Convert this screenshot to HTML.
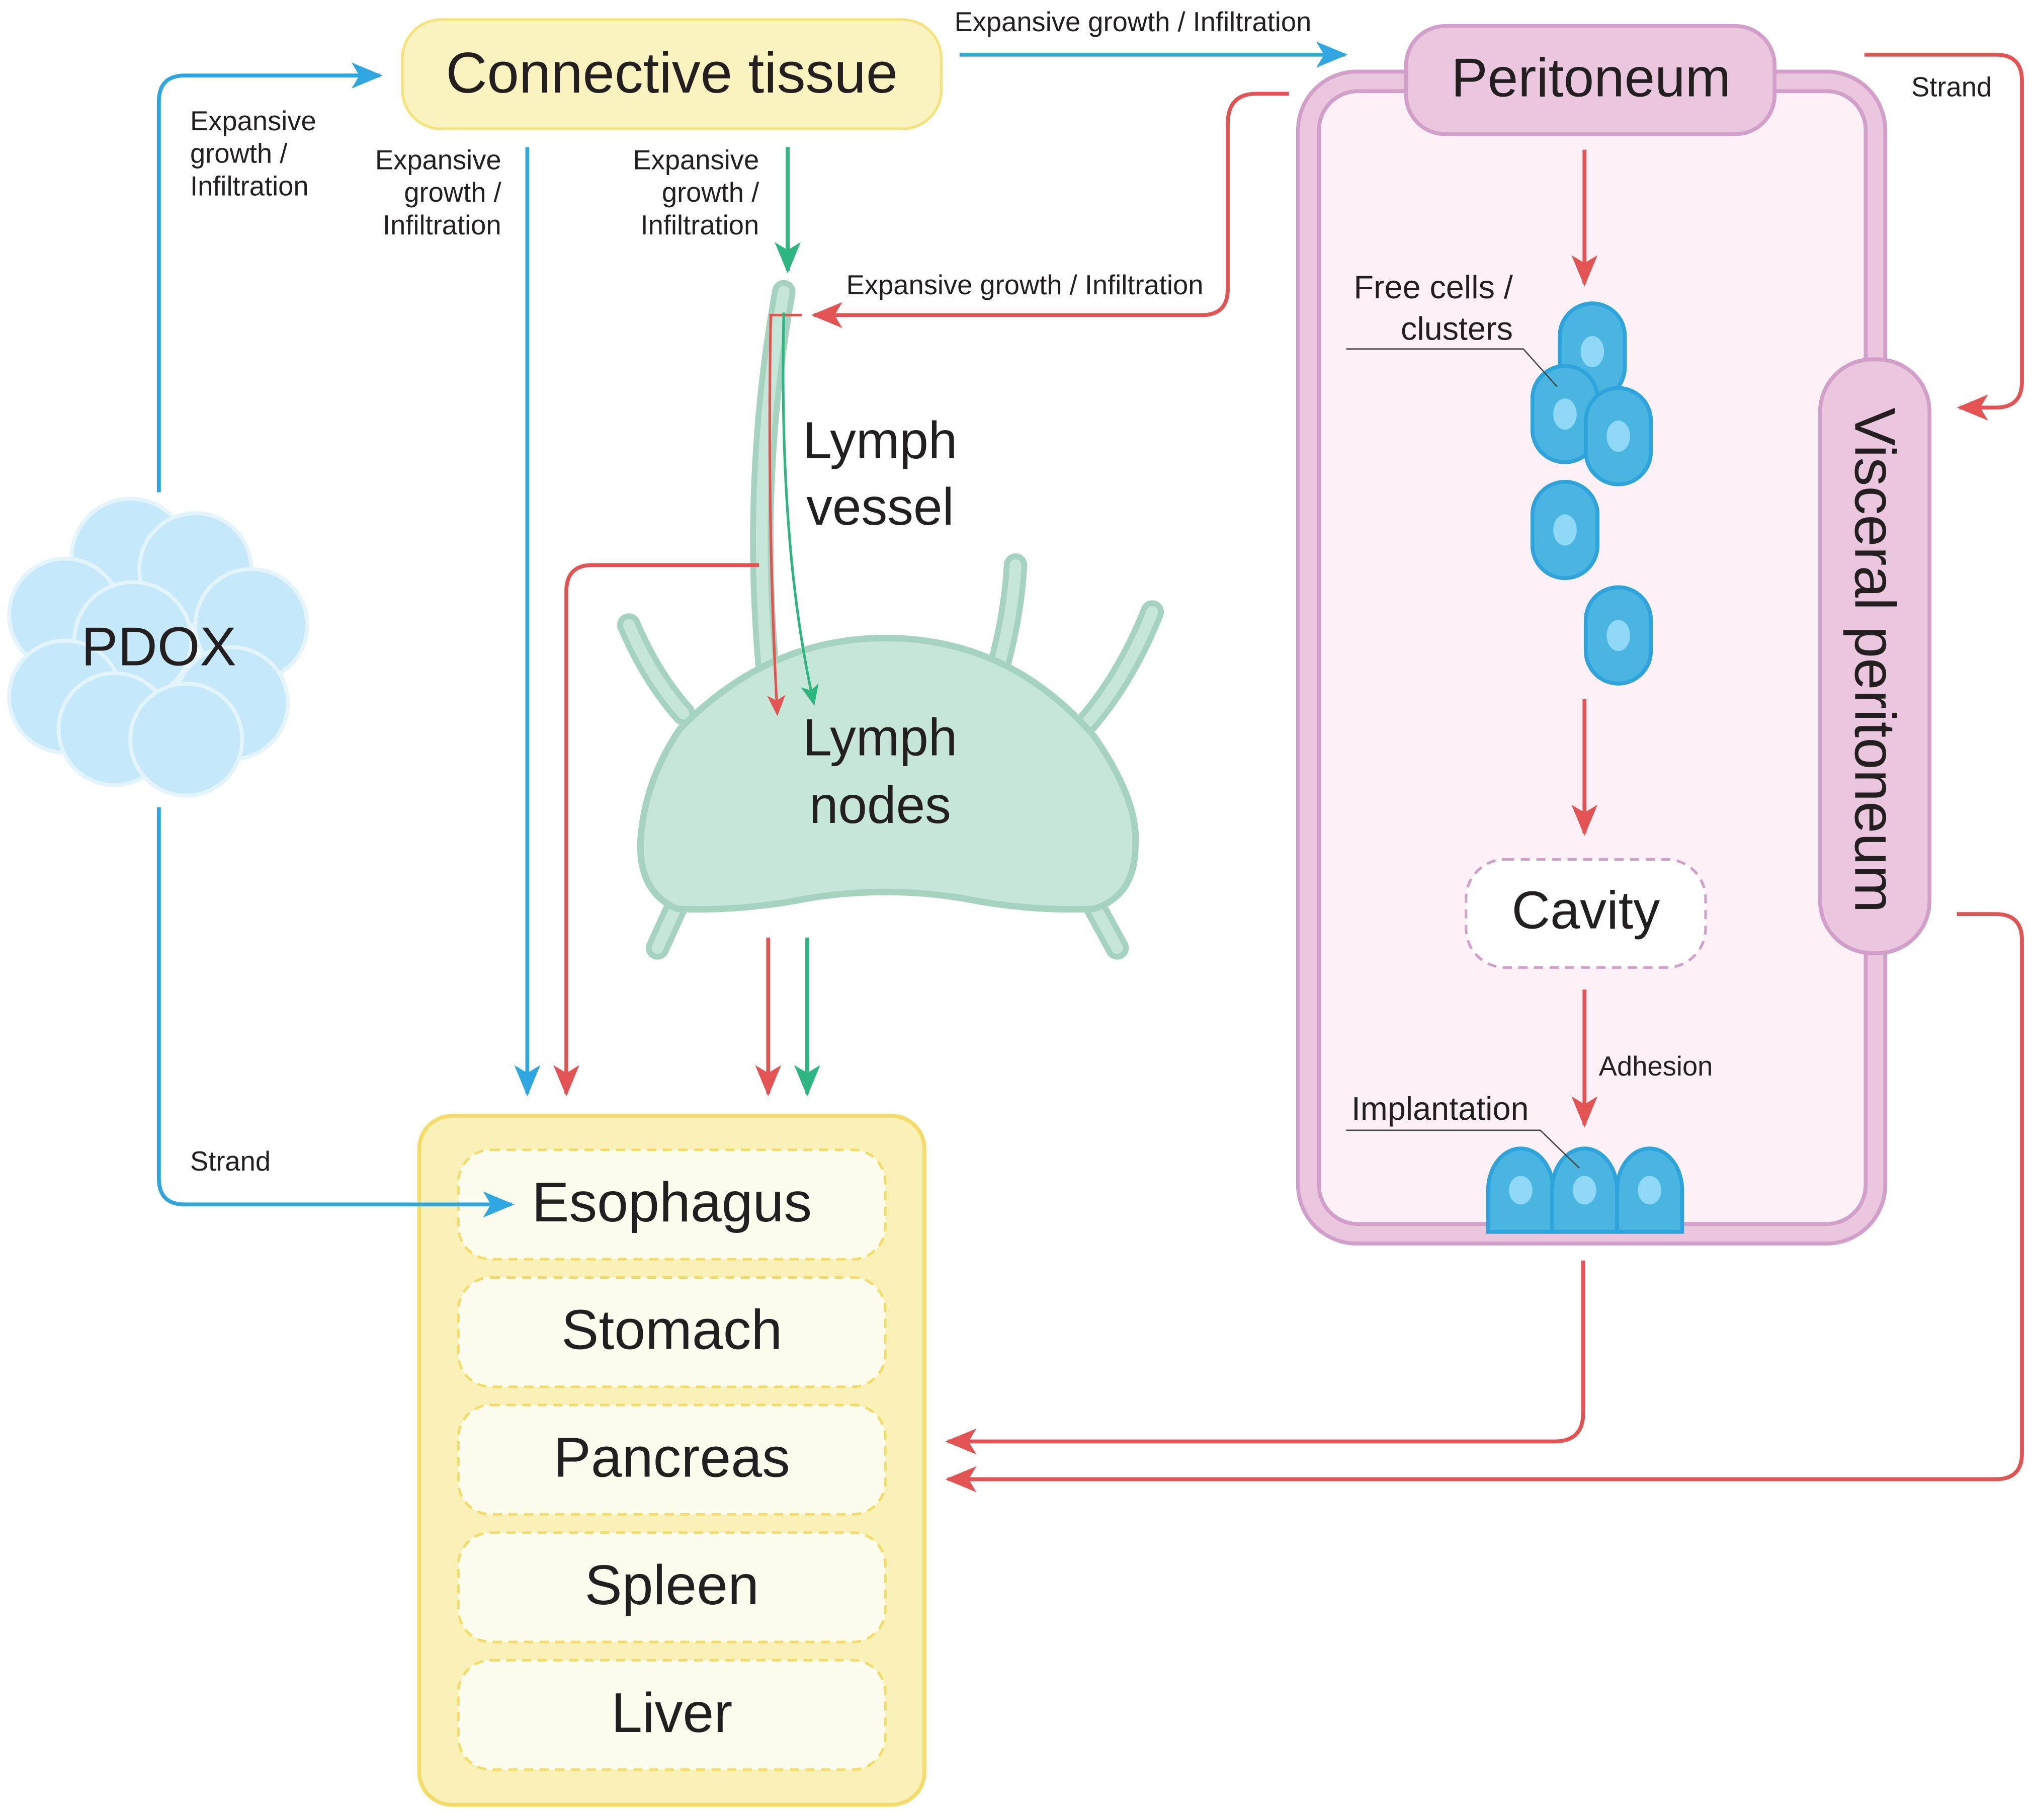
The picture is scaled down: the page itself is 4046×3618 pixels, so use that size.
<!DOCTYPE html>
<html><head><meta charset="utf-8"><style>
html,body{margin:0;padding:0;background:#fff}
svg{display:block}
text{font-family:"Liberation Sans",Arial,sans-serif;fill:#231f20}
</style></head><body>
<svg width="4046" height="3618" viewBox="0 0 1563 1397.7" xmlns="http://www.w3.org/2000/svg">
<defs>
<marker id="ab" markerUnits="userSpaceOnUse" markerWidth="30" markerHeight="30" refX="22" refY="10" orient="auto"><path d="M0,0 L24,10 L0,20 L6,10 Z" fill="#2fa6df"/></marker>
<marker id="ar" markerUnits="userSpaceOnUse" markerWidth="30" markerHeight="30" refX="22" refY="10" orient="auto"><path d="M0,0 L24,10 L0,20 L6,10 Z" fill="#e45353"/></marker>
<marker id="ag" markerUnits="userSpaceOnUse" markerWidth="30" markerHeight="30" refX="22" refY="10" orient="auto"><path d="M0,0 L24,10 L0,20 L6,10 Z" fill="#2fb57f"/></marker>
<marker id="ars" markerUnits="userSpaceOnUse" markerWidth="20" markerHeight="20" refX="14" refY="7" orient="auto"><path d="M0,0 L16,7 L0,14 L4,7 Z" fill="#e45353"/></marker>
<marker id="ags" markerUnits="userSpaceOnUse" markerWidth="20" markerHeight="20" refX="14" refY="7" orient="auto"><path d="M0,0 L16,7 L0,14 L4,7 Z" fill="#2fb57f"/></marker>
<g id="cell"><rect x="-25" y="-37" width="50" height="74" rx="25" ry="25" fill="#4bb5e2" stroke="#2ea3dc" stroke-width="3"/><ellipse cx="0" cy="0" rx="9" ry="12" fill="#8fd8f6"/></g>
<g id="icell"><path d="M-25,32 V0 A25,32 0 0 1 25,0 V32 Z" fill="#4bb5e2" stroke="#2ea3dc" stroke-width="3"/><ellipse cx="0" cy="0" rx="9" ry="11" fill="#8fd8f6"/></g>
</defs>

<rect x="997" y="55" width="451" height="900" rx="45" fill="#ebc7df" stroke="#d19fc9" stroke-width="3"/>
<rect x="1013" y="70" width="420" height="870" rx="30" fill="#fdf1f7" stroke="#d19fc9" stroke-width="3"/>
<rect x="1080" y="20" width="283" height="83" rx="30" fill="#ebc7df" stroke="#d19fc9" stroke-width="3"/>
<text x="1222" y="74" font-size="42" text-anchor="middle">Peritoneum</text>
<rect x="1398" y="276" width="84" height="456" rx="40" fill="#ebc7df" stroke="#d19fc9" stroke-width="3"/>
<text transform="translate(1425,507) rotate(90)" font-size="44" text-anchor="middle">Visceral peritoneum</text>

<rect x="309" y="15" width="414" height="84" rx="30" fill="#faf3c0" stroke="#f5e27a" stroke-width="2"/>
<text x="516" y="71" font-size="44" text-anchor="middle">Connective tissue</text>

<rect x="322" y="857" width="388" height="529" rx="25" fill="#faf1b8" stroke="#f5dc6a" stroke-width="3"/>
<g fill="#fefcee" stroke="#f5dc6a" stroke-width="2" stroke-dasharray="7,5">
<rect x="352" y="883" width="328" height="84" rx="25"/>
<rect x="352" y="981" width="328" height="84" rx="25"/>
<rect x="352" y="1079" width="328" height="84" rx="25"/>
<rect x="352" y="1177" width="328" height="84" rx="25"/>
<rect x="352" y="1275" width="328" height="84" rx="25"/>
</g>
<g font-size="43" text-anchor="middle">
<text x="516" y="938">Esophagus</text>
<text x="516" y="1036">Stomach</text>
<text x="516" y="1134">Pancreas</text>
<text x="516" y="1232">Spleen</text>
<text x="516" y="1330">Liver</text>
</g>

<g fill="#c5e8fb" stroke="#e3f4fd" stroke-width="3">
<circle cx="100" cy="428" r="45"/><circle cx="150" cy="437" r="43"/><circle cx="50" cy="472" r="43"/>
<circle cx="193" cy="480" r="43"/><circle cx="102" cy="492" r="45"/><circle cx="50" cy="535" r="43"/>
<circle cx="178" cy="540" r="43"/><circle cx="88" cy="560" r="43"/><circle cx="143" cy="568" r="43"/>
</g>
<text x="122" y="511" font-size="42" text-anchor="middle">PDOX</text>

<g stroke-linecap="round" fill="none">
<g stroke="#a5d3bf" stroke-width="18">
<path d="M525,548 Q500,520 483,480"/><path d="M835,555 Q865,520 885,470"/>
<path d="M768,508 Q778,470 780,434"/><path d="M520,695 L505,728"/><path d="M840,695 L858,728"/>
<path d="M590,520 Q576,370 602,224"/>
</g>
<g stroke="#c6e7d8" stroke-width="9">
<path d="M525,548 Q500,520 483,480"/><path d="M835,555 Q865,520 885,470"/>
<path d="M768,508 Q778,470 780,434"/><path d="M520,695 L505,728"/><path d="M840,695 L858,728"/>
<path d="M590,520 Q576,370 602,224"/>
</g>
</g>
<path d="M522,560 Q590,490 680,490 Q775,490 840,565 Q875,615 872,650 Q872,688 840,698 Q790,700 740,690 Q680,680 620,690 Q570,700 520,698 Q490,685 492,645 Q495,600 522,560 Z" fill="#c6e7d8" stroke="#a5d3bf" stroke-width="5"/>
<g font-size="40" text-anchor="middle">
<text x="676" y="352">Lymph</text><text x="676" y="403">vessel</text>
<text x="676" y="580">Lymph</text><text x="676" y="632">nodes</text>
</g>

<use href="#cell" x="1223" y="270"/><use href="#cell" x="1202" y="318"/><use href="#cell" x="1243" y="335"/>
<use href="#cell" x="1202" y="407"/><use href="#cell" x="1243" y="488"/>
<use href="#icell" x="1168" y="914"/><use href="#icell" x="1267" y="914"/><use href="#icell" x="1217" y="914"/>

<rect x="1126" y="660" width="184" height="83" rx="30" fill="#fff" stroke="#d19fc9" stroke-width="2" stroke-dasharray="7,5"/>
<text x="1218" y="713" font-size="41" text-anchor="middle">Cavity</text>

<g fill="none" stroke-width="3">
<path d="M122,378 V78 Q122,58 142,58 H292" stroke="#2fa6df" marker-end="url(#ab)"/>
<path d="M122,620 V905 Q122,925 142,925 H393" stroke="#2fa6df" marker-end="url(#ab)"/>
<path d="M405,113 V840" stroke="#2fa6df" marker-end="url(#ab)"/>
<path d="M737,42 H1033" stroke="#2fa6df" marker-end="url(#ab)"/>
<path d="M605,113 V208" stroke="#2fb57f" marker-end="url(#ag)"/>
<path d="M990,72 H965 Q943,72 943,95 V222 Q943,242 923,242 H625" stroke="#e45353" marker-end="url(#ar)"/>
<path d="M583,434 H455 Q435,434 435,454 V840" stroke="#e45353" marker-end="url(#ar)"/>
<path d="M590,720 V840" stroke="#e45353" marker-end="url(#ar)"/>
<path d="M620,720 V840" stroke="#2fb57f" marker-end="url(#ag)"/>
<path d="M1217,115 V218" stroke="#e45353" marker-end="url(#ar)"/>
<path d="M1217,537 V640" stroke="#e45353" marker-end="url(#ar)"/>
<path d="M1217,760 V864" stroke="#e45353" marker-end="url(#ar)"/>
<path d="M1216,968 V1085 Q1216,1107 1194,1107 H728" stroke="#e45353" marker-end="url(#ar)"/>
<path d="M1432,42 H1533 Q1553,42 1553,62 V293 Q1553,313 1533,313 H1505" stroke="#e45353" marker-end="url(#ar)"/>
<path d="M1503,702 H1533 Q1553,702 1553,722 V1116 Q1553,1136 1533,1136 H728" stroke="#e45353" marker-end="url(#ar)"/>
</g>
<g fill="none" stroke-width="2">
<path d="M616,242 H592 Q589,400 597,548" stroke="#e45353" marker-end="url(#ars)"/>
<path d="M602,240 Q598,420 625,540" stroke="#2fb57f" marker-end="url(#ags)"/>
</g>
<g stroke="#444" stroke-width="1" fill="none">
<path d="M1034,268 H1170 L1196,297"/><path d="M1034,868 H1183 L1213,897"/>
</g>

<g font-size="21">
<text x="733" y="24">Expansive growth / Infiltration</text>
<text x="1468" y="74">Strand</text>
<text x="146" y="899">Strand</text>
<text x="146" y="100">Expansive</text><text x="146" y="125">growth /</text><text x="146" y="150">Infiltration</text>
<g text-anchor="end">
<text x="385" y="130">Expansive</text><text x="385" y="155">growth /</text><text x="385" y="180">Infiltration</text>
<text x="583" y="130">Expansive</text><text x="583" y="155">growth /</text><text x="583" y="180">Infiltration</text>
</g>
<text x="650" y="226">Expansive growth / Infiltration</text>
<text x="1228" y="826">Adhesion</text>
</g>
<g font-size="25">
<text x="1162" y="229" text-anchor="end">Free cells /</text>
<text x="1162" y="261" text-anchor="end">clusters</text>
<text x="1038" y="860">Implantation</text>
</g>
</svg>
</body></html>
